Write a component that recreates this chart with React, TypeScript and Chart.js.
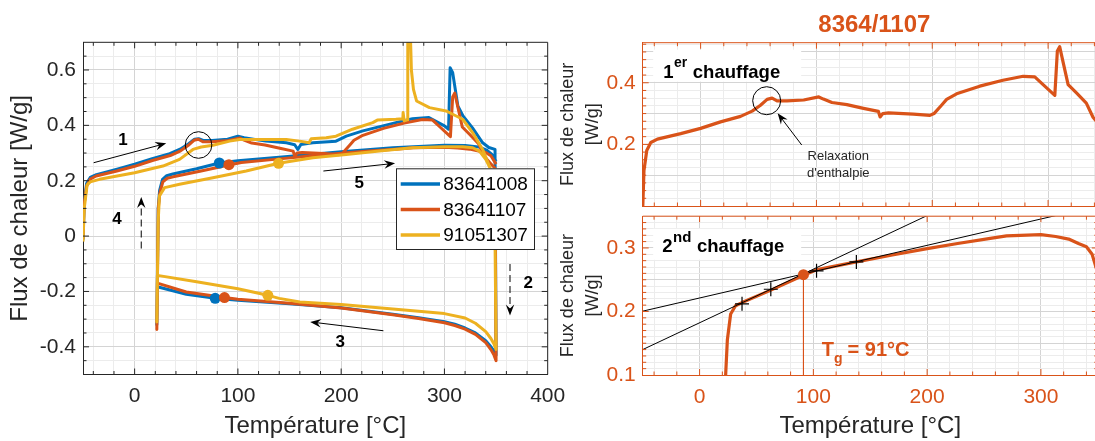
import React, { useEffect, useRef } from "react";
import { Chart, registerables } from "chart.js";

Chart.register(...registerables);

const FONT = "'Liberation Sans', Arial, Helvetica, sans-serif";
const BLUE = "#0072BD";
const ORANGE = "#D95319";
const YELLOW = "#EDB120";
const AXIS = "#262626";
const GRID_MAJOR = "#d4d4d4";
const GRID_MINOR = "#ececec";

type Pt = [number, number];

// ---------------- data ----------------
const seriesNames = ["83641008", "83641107", "91051307"];
const seriesColors = [BLUE, ORANGE, YELLOW];

// 1st heating (step 1), temperature [°C], heat flow [W/g]
const heat1_83641008: Pt[] = [
  [-50, -0.015], [-48.8, 0.12], [-46.5, 0.19], [-43, 0.212], [-37, 0.222], [-17, 0.242], [0, 0.26],
  [17, 0.28], [34, 0.298], [44, 0.314], [52, 0.333], [58, 0.35], [62, 0.352], [67, 0.345], [75, 0.345],
  [90, 0.35], [100, 0.361], [106, 0.355], [127, 0.343], [147, 0.337], [155, 0.33], [158, 0.313],
  [161, 0.331], [172.6, 0.337], [195, 0.343], [205, 0.361], [221, 0.38], [253, 0.41], [269, 0.424],
  [285, 0.428], [300, 0.398], [304, 0.386], [305.5, 0.608], [308, 0.59], [313, 0.47], [318, 0.434],
  [327, 0.392], [337, 0.337], [343, 0.32], [349, 0.313],
];
const heat1_83641107: Pt[] = [
  [-50, -0.01], [-48.9, 0.115], [-46.5, 0.18], [-43, 0.206], [-37.3, 0.217], [-17.2, 0.235], [0, 0.252],
  [17.2, 0.273], [34.5, 0.291], [44.5, 0.308], [51.7, 0.327], [57.4, 0.346], [61.7, 0.35], [66, 0.341],
  [74.6, 0.341], [89, 0.344], [102, 0.354], [106, 0.347], [113.4, 0.336], [126.3, 0.329], [140.6, 0.317],
  [153.5, 0.307], [155, 0.289], [157.3, 0.3], [162.2, 0.302], [183.7, 0.298], [198, 0.294], [201.5, 0.3],
  [208, 0.327], [212.4, 0.346], [221, 0.364], [241, 0.389], [261, 0.408], [278.5, 0.421], [288.5, 0.419],
  [295.7, 0.394], [305.8, 0.359], [308, 0.503], [310, 0.517], [313, 0.466], [317.3, 0.394], [324.5, 0.367],
  [333, 0.334], [338.8, 0.288], [344, 0.265], [349, 0.245],
];
const heat1_91051307: Pt[] = [
  [-50, -0.02], [-48.8, 0.1], [-46, 0.185], [-43, 0.196], [-34, 0.205], [0, 0.229], [27.4, 0.253],
  [43.5, 0.277], [56.5, 0.313], [64.5, 0.322], [75.8, 0.328], [92, 0.343], [101.6, 0.349], [124, 0.349],
  [146.8, 0.349], [159.7, 0.343], [169, 0.337], [171, 0.352], [185.5, 0.355], [195, 0.361], [211, 0.386],
  [230.6, 0.41], [235, 0.419], [253, 0.422], [259.7, 0.424], [260, 0.446], [261, 0.416], [264, 0.42],
  [264.5, 0.8], [266.5, 0.8], [268, 0.6], [270, 0.53], [273, 0.488], [285.5, 0.464], [301.6, 0.452],
  [308, 0.44], [317.7, 0.422], [327.4, 0.373], [337, 0.313], [343.5, 0.253], [348.5, 0.18],
];

// cooling (steps 2-3)
const cool_83641008: Pt[] = [
  [350, -0.43], [348, -0.415], [345, -0.4], [340, -0.378], [330, -0.35], [320, -0.332], [310, -0.318],
  [300, -0.309], [275, -0.295], [250, -0.282], [200, -0.259], [150, -0.244], [100, -0.232], [78, -0.225],
  [50, -0.21], [22, -0.183], [21.5, -0.32],
];
const cool_83641107: Pt[] = [
  [350, -0.45], [348, -0.43], [345, -0.41], [340, -0.385], [330, -0.355], [320, -0.336], [310, -0.323],
  [300, -0.313], [275, -0.298], [250, -0.284], [200, -0.26], [150, -0.243], [100, -0.228], [87, -0.222],
  [50, -0.202], [22, -0.17], [21.5, -0.337],
];
const cool_91051307: Pt[] = [
  [350, -0.41], [348, -0.39], [345, -0.37], [340, -0.345], [330, -0.315], [320, -0.296], [300, -0.28],
  [250, -0.263], [200, -0.247], [160, -0.238], [140, -0.225], [129, -0.214], [100, -0.19], [60, -0.165],
  [22, -0.142], [21.5, -0.31],
];

// 2nd heating (steps 4-5)
const heat2_83641008: Pt[] = [
  [21.5, -0.32], [22.8, 0.1], [24.2, 0.165], [27, 0.205], [31, 0.218], [37, 0.224], [60, 0.243],
  [82, 0.264], [100, 0.272], [140, 0.285], [170, 0.295], [200, 0.305], [250, 0.319], [300, 0.328],
  [320, 0.327], [333, 0.322], [341, 0.31], [346, 0.295], [350, 0.27],
];
const heat2_83641107: Pt[] = [
  [21.5, -0.337], [22.9, 0.1], [24.4, 0.155], [27.3, 0.196], [31.6, 0.209], [37.3, 0.214], [63.2, 0.234],
  [91.3, 0.257], [103.4, 0.266], [137.8, 0.278], [169.4, 0.289], [200, 0.299], [226.8, 0.307],
  [255.5, 0.315], [269.8, 0.319], [300, 0.321], [313, 0.318], [324.4, 0.314], [333, 0.307], [340, 0.302],
  [345, 0.29], [350, 0.26],
];
const heat2_91051307: Pt[] = [
  [21.5, -0.31], [22.8, 0.05], [24, 0.145], [29, 0.175], [43.5, 0.187], [75.8, 0.211], [108, 0.235],
  [139.4, 0.263], [172.6, 0.283], [204.8, 0.295], [237, 0.307], [269, 0.319], [301.6, 0.323],
  [317.7, 0.323], [327.4, 0.319], [333.9, 0.307], [340, 0.277], [345, 0.24], [350, 0.2],
];

// glass transition markers
const tgHeatT = [82, 91.3, 139.4];
const tgHeatQ = [0.264, 0.258, 0.263];
const tgCoolT = [78, 87, 129];
const tgCoolQ = [-0.225, -0.222, -0.214];

// Tg construction (sample 8364/1107, 2nd heating)
const tangentLow: Pt[] = [[-50, 0.14], [200, 0.351]];
const tangentHigh: Pt[] = [[-50, 0.2005], [313, 0.351]];
const crossT = [37.3, 62.6, 102.8, 137.8];
const crossQ = [0.212, 0.235, 0.264, 0.278];
const tgValue = 91.3;
const tgFlow = 0.258;

// tick labels
const leftXLabels = [0, 100, 200, 300, 400];
const leftYLabels = [-0.4, -0.2, 0, 0.2, 0.4, 0.6];
const rightXLabels = [0, 100, 200, 300];
const topYLabels = [0.2, 0.4];
const topYMajors = [0.1, 0.2, 0.3, 0.4, 0.5];
const botYLabels = [0.1, 0.2, 0.3];
const botYMajors = [0.15, 0.2, 0.25, 0.3];

// ---------------- helpers ----------------
const heat1All = [heat1_83641008, heat1_83641107, heat1_91051307];
const coolAll = [cool_83641008, cool_83641107, cool_91051307];
const heat2All = [heat2_83641008, heat2_83641107, heat2_91051307];

const xy = (a: Pt[]) => a.map(([x, y]) => ({ x, y }));
const near = (list: number[], v: number) => list.some((m) => Math.abs(m - v) < 1e-6);
const fmt = (v: number) => String(Math.round(v * 1000) / 1000);
function steps(min: number, max: number, step: number) {
  const out: number[] = [];
  const n = Math.round((max - min) / step);
  for (let i = 0; i <= n; i++) out.push(Math.round((min + i * step) * 10000) / 10000);
  return out;
}

function makeScale(o: {
  axis: "x" | "y"; min: number; max: number; ticks: number[]; majors: number[]; labels: number[];
  border: string; labelColor: string; showLabels: boolean; size: number; tickPadding: number;
  title?: string | string[]; titleSize?: number; titlePadding?: any; titleLineHeight?: number;
}) {
  return {
    type: "linear",
    position: o.axis === "x" ? "bottom" : "left",
    min: o.min,
    max: o.max,
    afterBuildTicks: (s: any) => {
      s.ticks = o.ticks.map((v) => ({ value: v }));
    },
    afterFit: (s: any) => {
      if (o.axis === "x") s.height = o.size;
      else s.width = o.size;
      s.paddingLeft = 0;
      s.paddingRight = 0;
      s.paddingTop = 0;
      s.paddingBottom = 0;
    },
    grid: {
      color: (c: any) => (c.tick && near(o.majors, c.tick.value) ? GRID_MAJOR : GRID_MINOR),
      lineWidth: 1,
      drawTicks: false,
    },
    border: { display: true, color: o.border, width: 1 },
    ticks: {
      display: o.showLabels,
      autoSkip: false,
      maxRotation: 0,
      minRotation: 0,
      padding: o.tickPadding,
      color: o.labelColor,
      font: { family: FONT, size: 21 },
      callback: (v: any) => (near(o.labels, Number(v)) ? fmt(Number(v)) : ""),
    },
    title: o.title
      ? {
          display: true,
          text: o.title,
          color: AXIS,
          font: { family: FONT, size: o.titleSize, lineHeight: o.titleLineHeight || 1.2 },
          padding: o.titlePadding,
        }
      : { display: false },
  };
}

function drawFrame(chart: any, color: string, xt: number[], xm: number[], yt: number[], ym: number[]) {
  const { ctx, chartArea: a, scales } = chart;
  const x = scales.x;
  const y = scales.y;
  ctx.save();
  ctx.strokeStyle = color;
  ctx.lineWidth = 1;
  ctx.beginPath();
  ctx.moveTo(a.left, a.top);
  ctx.lineTo(a.right, a.top);
  ctx.moveTo(a.right, a.top);
  ctx.lineTo(a.right, a.bottom);
  for (const v of xt) {
    if (v <= x.min || v >= x.max) continue;
    const p = x.getPixelForValue(v);
    const len = near(xm, v) ? 6 : 3.5;
    ctx.moveTo(p, a.bottom);
    ctx.lineTo(p, a.bottom - len);
    ctx.moveTo(p, a.top);
    ctx.lineTo(p, a.top + len);
  }
  for (const v of yt) {
    if (v <= y.min || v >= y.max) continue;
    const p = y.getPixelForValue(v);
    const len = near(ym, v) ? 6 : 3.5;
    ctx.moveTo(a.left, p);
    ctx.lineTo(a.left + len, p);
    ctx.moveTo(a.right, p);
    ctx.lineTo(a.right - len, p);
  }
  ctx.stroke();
  ctx.restore();
}

function arrow(ctx: CanvasRenderingContext2D, x1: number, y1: number, x2: number, y2: number, dashed: boolean) {
  const head = 11;
  const half = 4.2;
  const ang = Math.atan2(y2 - y1, x2 - x1);
  const c = Math.cos(ang);
  const s = Math.sin(ang);
  ctx.save();
  ctx.strokeStyle = "#000";
  ctx.fillStyle = "#000";
  ctx.lineWidth = 1;
  if (dashed) ctx.setLineDash([7, 4]);
  ctx.beginPath();
  ctx.moveTo(x1, y1);
  ctx.lineTo(x2 - head * 0.6 * c, y2 - head * 0.6 * s);
  ctx.stroke();
  ctx.setLineDash([]);
  const bx = x2 - head * c;
  const by = y2 - head * s;
  ctx.beginPath();
  ctx.moveTo(x2, y2);
  ctx.lineTo(bx - s * half, by + c * half);
  ctx.lineTo(x2 - head * 0.65 * c, y2 - head * 0.65 * s);
  ctx.lineTo(bx + s * half, by - c * half);
  ctx.closePath();
  ctx.fill();
  ctx.restore();
}

function supLabel(ctx: CanvasRenderingContext2D, x: number, base: number, main: string, sup: string, rest: string, supSize: number, raise: number) {
  ctx.save();
  ctx.fillStyle = "#000";
  ctx.textAlign = "left";
  ctx.textBaseline = "alphabetic";
  ctx.font = `bold 18.5px ${FONT}`;
  ctx.fillText(main, x, base);
  const w1 = ctx.measureText(main).width;
  ctx.font = `bold ${supSize}px ${FONT}`;
  ctx.fillText(sup, x + w1 + 0.5, base - raise);
  const w2 = ctx.measureText(sup).width;
  ctx.font = `bold 18.5px ${FONT}`;
  ctx.fillText(rest, x + w1 + w2 + 6, base);
  ctx.restore();
}

// ---------------- annotation anchors (data coordinates) ----------------
const leftArrows = [
  { from: [-39.7, 0.265], to: [30.6, 0.335], dashed: false },
  { from: [6.4, -0.045], to: [6.4, 0.141], dashed: true },
  { from: [182.8, 0.235], to: [252.2, 0.263], dashed: false },
  { from: [363.5, -0.101], to: [363.5, -0.287], dashed: true },
  { from: [240.9, -0.342], to: [170, -0.31], dashed: false },
];
const leftSteps = [
  { t: "1", at: [-11.3, 0.347] },
  { t: "4", at: [-17.1, 0.062] },
  { t: "5", at: [217.4, 0.189] },
  { t: "2", at: [381.2, -0.17] },
  { t: "3", at: [199, -0.385] },
];

// ---------------- charts ----------------
function leftConfig(): any {
  const xTicks = steps(-40, 400, 20);
  const yTicks = steps(-0.5, 0.7, 0.05);
  const datasets: any[] = [];
  for (let i = 0; i < 3; i++) {
    datasets.push({
      label: seriesNames[i],
      data: xy([...heat1All[i], ...coolAll[i], ...heat2All[i]]),
      borderColor: seriesColors[i],
      backgroundColor: seriesColors[i],
      borderWidth: 3,
      pointRadius: 0,
      tension: 0,
      fill: false,
      borderJoinStyle: "round",
      order: 6 - i,
    });
  }
  for (let i = 0; i < 3; i++) {
    datasets.push({
      label: seriesNames[i] + " Tg",
      data: [{ x: tgHeatT[i], y: tgHeatQ[i] }, { x: tgCoolT[i], y: tgCoolQ[i] }],
      showLine: false,
      pointRadius: 5.5,
      pointBorderWidth: 0,
      pointBackgroundColor: seriesColors[i],
      borderColor: seriesColors[i],
      order: 3 - i,
    });
  }
  const plugin = {
    id: "leftAnnot",
    afterDraw(chart: any) {
      const { ctx, chartArea: a, scales } = chart;
      const x = scales.x;
      const y = scales.y;
      drawFrame(chart, AXIS, xTicks, leftXLabels, yTicks, leftYLabels);
      for (const ar of leftArrows) {
        arrow(ctx, x.getPixelForValue(ar.from[0]), y.getPixelForValue(ar.from[1]),
          x.getPixelForValue(ar.to[0]), y.getPixelForValue(ar.to[1]), ar.dashed);
      }
      ctx.save();
      ctx.fillStyle = "#000";
      ctx.font = `bold 17px ${FONT}`;
      ctx.textAlign = "center";
      ctx.textBaseline = "middle";
      for (const s of leftSteps) ctx.fillText(s.t, x.getPixelForValue(s.at[0]), y.getPixelForValue(s.at[1]));
      // circle around enthalpy relaxation
      ctx.strokeStyle = "#000";
      ctx.lineWidth = 1;
      ctx.beginPath();
      ctx.arc(x.getPixelForValue(61.9), y.getPixelForValue(0.329), 13.3, 0, Math.PI * 2);
      ctx.stroke();
      // legend
      const bl = a.right - 151.7;
      const bt = a.top + 126;
      ctx.fillStyle = "#fff";
      ctx.fillRect(bl, bt, 138, 80.7);
      ctx.strokeStyle = AXIS;
      ctx.strokeRect(bl + 0.5, bt + 0.5, 138, 80.7);
      ctx.font = `19px ${FONT}`;
      ctx.textAlign = "left";
      for (let i = 0; i < 3; i++) {
        const ly = bt + 15.7 + i * 25.5;
        ctx.strokeStyle = seriesColors[i];
        ctx.lineWidth = 3.5;
        ctx.beginPath();
        ctx.moveTo(bl + 4.7, ly);
        ctx.lineTo(bl + 44, ly);
        ctx.stroke();
        ctx.fillStyle = "#000";
        ctx.fillText(seriesNames[i], bl + 47.3, ly + 1);
      }
      ctx.restore();
    },
  };
  return {
    type: "line",
    data: { datasets },
    options: {
      responsive: false,
      animation: false,
      devicePixelRatio: 1,
      events: [],
      layout: { padding: { top: 42.3, right: 32.3, left: 0, bottom: 0 } },
      plugins: { legend: { display: false }, tooltip: { enabled: false }, title: { display: false } },
      scales: {
        x: makeScale({
          axis: "x", min: -50, max: 400, ticks: xTicks, majors: leftXLabels, labels: leftXLabels,
          border: AXIS, labelColor: AXIS, showLabels: true, size: 66.5, tickPadding: 9.5,
          title: "Température [°C]", titleSize: 24, titlePadding: { top: 0, bottom: 0 },
        }),
        y: makeScale({
          axis: "y", min: -0.5, max: 0.7, ticks: yTicks, majors: leftYLabels, labels: leftYLabels,
          border: AXIS, labelColor: AXIS, showLabels: true, size: 83, tickPadding: 7,
          title: "Flux de chaleur [W/g]", titleSize: 24, titlePadding: { top: 6.3, bottom: 0 },
        }),
      },
    },
    plugins: [plugin],
  };
}

function topConfig(): any {
  const xTicks = steps(-40, 340, 20);
  const yTicks = steps(0, 0.525, 0.025);
  const plugin = {
    id: "topAnnot",
    afterDraw(chart: any) {
      const { ctx, chartArea: a, scales } = chart;
      const x = scales.x;
      const y = scales.y;
      drawFrame(chart, ORANGE, xTicks, rightXLabels, yTicks, topYLabels);
      ctx.save();
      // title
      ctx.fillStyle = ORANGE;
      ctx.font = `bold 24px ${FONT}`;
      ctx.textAlign = "center";
      ctx.textBaseline = "alphabetic";
      ctx.fillText("8364/1107", (a.left + a.right) / 2, 32);
      // label box
      ctx.fillStyle = "#fff";
      ctx.fillRect(a.left + 10.5, a.top + 7, 148, 32);
      ctx.restore();
      supLabel(ctx, a.left + 20.6, a.top + 35.6, "1", "er", "chauffage", 14, 11.5);
      ctx.save();
      ctx.strokeStyle = "#000";
      ctx.lineWidth = 1;
      ctx.beginPath();
      ctx.arc(x.getPixelForValue(57.05), y.getPixelForValue(0.3417), 14, 0, Math.PI * 2);
      ctx.stroke();
      ctx.restore();
      arrow(ctx, x.getPixelForValue(87.3), y.getPixelForValue(0.198), x.getPixelForValue(66.5), y.getPixelForValue(0.301), false);
      ctx.save();
      ctx.fillStyle = AXIS;
      ctx.font = `13px ${FONT}`;
      ctx.textAlign = "center";
      ctx.textBaseline = "middle";
      ctx.fillText("Relaxation", x.getPixelForValue(118.9), y.getPixelForValue(0.162));
      ctx.fillText("d'enthalpie", x.getPixelForValue(118.9), y.getPixelForValue(0.106));
      ctx.restore();
    },
  };
  return {
    type: "line",
    data: {
      datasets: [
        {
          label: "8364/1107 1er chauffage",
          data: xy(heat1_83641107),
          borderColor: ORANGE,
          borderWidth: 3.2,
          pointRadius: 0,
          tension: 0,
          fill: false,
          borderJoinStyle: "round",
        },
      ],
    },
    options: {
      responsive: false,
      animation: false,
      devicePixelRatio: 1,
      events: [],
      layout: { padding: { top: 42.7, right: 0, left: 0, bottom: 0 } },
      plugins: { legend: { display: false }, tooltip: { enabled: false }, title: { display: false } },
      scales: {
        x: makeScale({
          axis: "x", min: -50, max: 350, ticks: xTicks, majors: rightXLabels, labels: rightXLabels,
          border: ORANGE, labelColor: ORANGE, showLabels: false, size: 2, tickPadding: 9.5,
        }),
        y: makeScale({
          axis: "y", min: 0, max: 0.53, ticks: yTicks, majors: topYMajors, labels: topYLabels,
          border: ORANGE, labelColor: ORANGE, showLabels: true, size: 102.7, tickPadding: 7,
          title: ["Flux de chaleur", "[W/g]"], titleSize: 18, titleLineHeight: 1.4,
          titlePadding: { top: 15.4, bottom: 0 },
        }),
      },
    },
    plugins: [plugin],
  };
}

function bottomConfig(): any {
  const xTicks = steps(-40, 340, 20);
  const yTicks = steps(0.1, 0.35, 0.01);
  const plugin = {
    id: "botAnnot",
    afterDraw(chart: any) {
      const { ctx, chartArea: a, scales } = chart;
      const x = scales.x;
      const y = scales.y;
      drawFrame(chart, ORANGE, xTicks, rightXLabels, yTicks, botYLabels);
      ctx.save();
      ctx.fillStyle = "#fff";
      ctx.fillRect(a.left + 10.5, a.top + 12.6, 148, 31);
      ctx.restore();
      supLabel(ctx, a.left + 19.6, a.top + 36, "2", "nd", "chauffage", 15, 10);
      ctx.save();
      ctx.fillStyle = ORANGE;
      ctx.textAlign = "left";
      ctx.textBaseline = "alphabetic";
      const tx = x.getPixelForValue(107.4);
      const ty = y.getPixelForValue(0.1304);
      ctx.font = `bold 20px ${FONT}`;
      ctx.fillText("T", tx, ty);
      const wT = ctx.measureText("T").width;
      ctx.font = `bold 14px ${FONT}`;
      ctx.fillText("g", tx + wT, ty + 7.5);
      const wg = ctx.measureText("g").width;
      ctx.font = `bold 20px ${FONT}`;
      ctx.fillText("= 91°C", tx + wT + wg + 5, ty);
      ctx.restore();
    },
  };
  return {
    type: "line",
    data: {
      datasets: [
        {
          label: "8364/1107 2nd chauffage",
          data: xy(heat2_83641107),
          borderColor: ORANGE,
          borderWidth: 3.2,
          pointRadius: 0,
          tension: 0,
          fill: false,
          borderJoinStyle: "round",
          order: 5,
        },
        {
          label: "tangente basse",
          data: xy(tangentLow),
          borderColor: "#000",
          borderWidth: 1,
          pointRadius: 0,
          tension: 0,
          order: 4,
        },
        {
          label: "tangente haute",
          data: xy(tangentHigh),
          borderColor: "#000",
          borderWidth: 1,
          pointRadius: 0,
          tension: 0,
          order: 4,
        },
        {
          label: "Tg ligne",
          data: [{ x: tgValue, y: tgFlow }, { x: tgValue, y: 0.1 }],
          borderColor: ORANGE,
          borderWidth: 1,
          pointRadius: 0,
          order: 3,
        },
        {
          label: "points",
          data: crossT.map((t, i) => ({ x: t, y: crossQ[i] })),
          showLine: false,
          pointStyle: "cross",
          pointRadius: 7,
          pointBorderWidth: 1.2,
          pointBorderColor: "#000",
          borderColor: "#000",
          order: 2,
        },
        {
          label: "Tg",
          data: [{ x: tgValue, y: tgFlow }],
          showLine: false,
          pointRadius: 5.5,
          pointBorderWidth: 0,
          pointBackgroundColor: ORANGE,
          borderColor: ORANGE,
          order: 1,
        },
      ],
    },
    options: {
      responsive: false,
      animation: false,
      devicePixelRatio: 1,
      events: [],
      layout: { padding: { top: 2.7, right: 0, left: 0, bottom: 0 } },
      plugins: { legend: { display: false }, tooltip: { enabled: false }, title: { display: false } },
      scales: {
        x: makeScale({
          axis: "x", min: -50, max: 350, ticks: xTicks, majors: rightXLabels, labels: rightXLabels,
          border: ORANGE, labelColor: ORANGE, showLabels: true, size: 66, tickPadding: 9.5,
          title: "Température [°C]", titleSize: 24, titlePadding: { top: 0, bottom: 0 },
        }),
        y: makeScale({
          axis: "y", min: 0.1, max: 0.35, ticks: yTicks, majors: botYMajors, labels: botYLabels,
          border: ORANGE, labelColor: ORANGE, showLabels: true, size: 102.7, tickPadding: 7,
          title: ["Flux de chaleur", "[W/g]"], titleSize: 18, titleLineHeight: 1.4,
          titlePadding: { top: 15.4, bottom: 0 },
        }),
      },
    },
    plugins: [plugin],
  };
}

export default function App() {
  const leftRef = useRef<HTMLCanvasElement>(null);
  const topRef = useRef<HTMLCanvasElement>(null);
  const botRef = useRef<HTMLCanvasElement>(null);

  useEffect(() => {
    const charts: Chart[] = [];
    if (leftRef.current) charts.push(new Chart(leftRef.current, leftConfig()));
    if (topRef.current) charts.push(new Chart(topRef.current, topConfig()));
    if (botRef.current) charts.push(new Chart(botRef.current, bottomConfig()));
    return () => charts.forEach((c) => c.destroy());
  }, []);

  return (
    <div
      style={{
        position: "absolute",
        left: 0,
        top: 0,
        width: 1095,
        height: 441,
        overflow: "hidden",
        background: "#fff",
      }}
    >
      <canvas ref={leftRef} width={580} height={441} style={{ position: "absolute", left: 0, top: 0, width: 580, height: 441 }} />
      <canvas ref={topRef} width={566} height={208} style={{ position: "absolute", left: 540, top: 0, width: 566, height: 208 }} />
      <canvas ref={botRef} width={566} height={233} style={{ position: "absolute", left: 540, top: 208, width: 566, height: 233 }} />
    </div>
  );
}
